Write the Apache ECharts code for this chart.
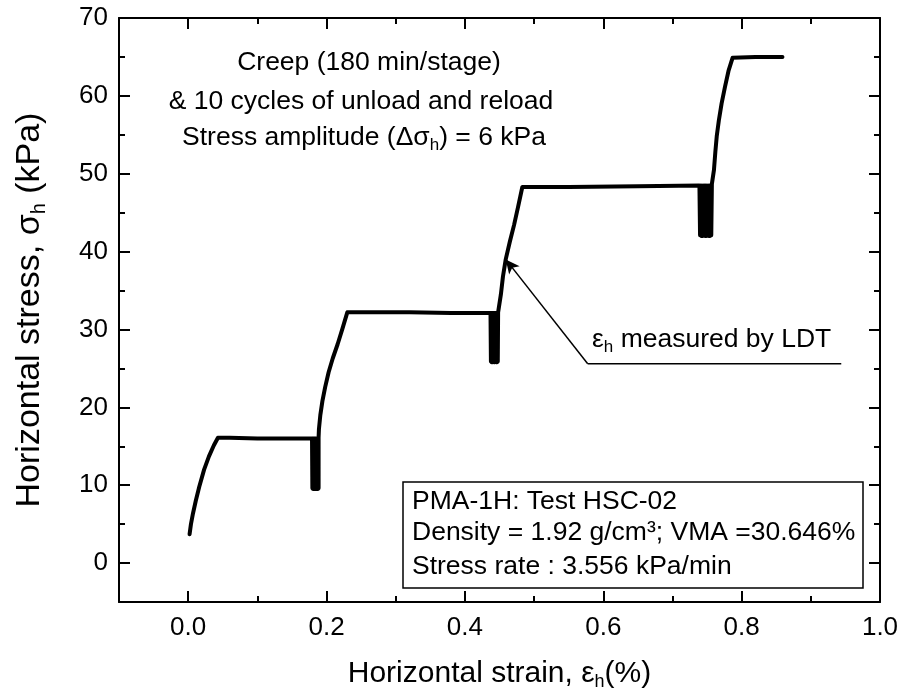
<!DOCTYPE html>
<html><head><meta charset="utf-8">
<script src="https://cdn.jsdelivr.net/npm/echarts@6/dist/echarts.min.js"></script>
<style>html,body{margin:0;padding:0;background:#fff}#c{width:903px;height:698px}</style>
</head><body><div id="c"></div>
<script>
// ---- data (strain in %, stress in kPa) ----
const loading1Strain = [0.002,0.004,0.007,0.011,0.016,0.023,0.030,0.037,0.043];
const loading1Stress = [3.7,5.0,6.4,8.0,9.8,12.0,13.7,15.1,16.1];
const creep1Strain = [0.060,0.100,0.140,0.179];
const creep1Stress = [16.1,16.0,16.0,16.0];
const cycle1Strain = [0.1790,0.1795,0.1800,0.1805,0.1810,0.1815,0.1820,0.1825,0.1830,0.1835,0.1840,0.1845,0.1850,0.1855,0.1860,0.1865,0.1870,0.1875,0.1880,0.1885,0.1885];
const cycle1Stress = [16.0,9.6,16.0,9.5,16.0,9.5,16.0,9.6,16.0,9.5,16.0,9.5,16.0,9.6,16.0,9.5,16.0,9.5,16.0,9.6,16.1];
const loading2Strain = [0.188,0.189,0.191,0.194,0.198,0.203,0.209,0.216,0.223,0.230];
const loading2Stress = [16.1,17.2,19.0,20.8,22.6,24.5,26.3,28.1,30.1,32.2];
const creep2Strain = [0.260,0.320,0.380,0.437];
const creep2Stress = [32.2,32.2,32.1,32.1];
const cycle2Strain = [0.4370,0.4376,0.4381,0.4387,0.4392,0.4398,0.4403,0.4409,0.4414,0.4420,0.4425,0.4431,0.4436,0.4442,0.4447,0.4453,0.4458,0.4464,0.4469,0.4475,0.4480];
const cycle2Stress = [32.1,25.9,32.1,25.8,32.1,25.8,32.1,25.9,32.1,25.8,32.1,25.8,32.1,25.9,32.1,25.8,32.1,25.8,32.1,25.9,32.2];
const loading3Strain = [0.449,0.452,0.455,0.459,0.465,0.471,0.477,0.483];
const loading3Stress = [32.3,34.5,36.8,39.0,41.3,43.4,45.8,48.3];
const creep3Strain = [0.550,0.650,0.739];
const creep3Stress = [48.3,48.4,48.5];
const cycle3Strain = [0.7390,0.7399,0.7408,0.7417,0.7426,0.7435,0.7444,0.7453,0.7462,0.7471,0.7480,0.7489,0.7498,0.7507,0.7516,0.7525,0.7534,0.7543,0.7552,0.7561,0.7570];
const cycle3Stress = [48.5,42.1,48.5,42.0,48.5,42.0,48.5,42.1,48.5,42.0,48.5,42.0,48.5,42.1,48.5,42.0,48.5,42.0,48.5,42.1,48.7];
const loading4Strain = [0.758,0.760,0.762,0.764,0.767,0.771,0.776,0.781,0.787];
const loading4Stress = [48.7,50.5,52.8,54.8,56.8,59.0,61.2,63.2,64.9];
const creep4Strain = [0.820,0.859];
const creep4Stress = [65.0,65.0];

const xMajorTicks = [0.0,0.2,0.4,0.6,0.8,1.0];
const xMinorTicks = [0.1,0.3,0.5,0.7,0.9];
const yMajorTicks = [0,10,20,30,40,50,60,70];
const yMinorTicks = [5,15,25,35,45,55,65];

// annotation leader line (data coords)
const leaderStrain = [0.944,0.5775,0.459];
const leaderStress = [25.6,25.6,39.0];

// ---- build ----
const segStrain = [loading1Strain,creep1Strain,cycle1Strain,loading2Strain,creep2Strain,cycle2Strain,loading3Strain,creep3Strain,cycle3Strain,loading4Strain,creep4Strain];
const segStress = [loading1Stress,creep1Stress,cycle1Stress,loading2Stress,creep2Stress,cycle2Stress,loading3Stress,creep3Stress,cycle3Stress,loading4Stress,creep4Stress];
const curve = [];
segStrain.forEach((xs,i)=>xs.forEach((x,j)=>curve.push([x,segStress[i][j]])));

const FONT = 'Liberation Sans, Arial, Helvetica, sans-serif';
const black = '#000';

function xAx(pos, ticks, len, line, label){
  return {
    type:'value', position:pos, min:-0.1, max:1.0,
    axisLine:{show:line, onZero:false, lineStyle:{color:black,width:2}},
    axisTick:{show:true, inside:true, length:len, customValues:ticks, lineStyle:{color:black,width:2}},
    axisLabel:{show:label, customValues:ticks, margin:13, fontSize:26, fontFamily:FONT, color:black,
      formatter:v=>Number(v).toFixed(1)},
    splitLine:{show:false}
  };
}
function yAx(pos, ticks, len, line, label){
  return {
    type:'value', position:pos, min:-5, max:70,
    axisLine:{show:line, onZero:false, lineStyle:{color:black,width:2}},
    axisTick:{show:true, inside:true, length:len, customValues:ticks, lineStyle:{color:black,width:2}},
    axisLabel:{show:label, customValues:ticks, margin:11, fontSize:26, fontFamily:FONT, color:black},
    splitLine:{show:false}
  };
}

const xMain = xAx('bottom', xMajorTicks, 11, true, true);
xMain.name = 'Horizontal strain, ε{sub|h}(%)';
xMain.nameLocation = 'middle';
xMain.nameGap = 55;
xMain.nameTextStyle = {fontSize:30, fontFamily:FONT, color:black, lineHeight:34,
  rich:{sub:{fontSize:18, fontFamily:FONT, color:black, verticalAlign:'bottom', lineHeight:34}}};

const yMain = yAx('left', yMajorTicks, 11, true, true);
yMain.name = 'Horizontal stress, σ{sub|h} (kPa)';
yMain.nameLocation = 'middle';
yMain.nameRotate = 90;
yMain.nameGap = 70;
yMain.nameTextStyle = {fontSize:34, fontFamily:FONT, color:black, lineHeight:38,
  rich:{sub:{fontSize:20, fontFamily:FONT, color:black, verticalAlign:'bottom', lineHeight:38}}};

const chart = echarts.init(document.getElementById('c'), null, {renderer:'canvas'});
const textRich = {sub:{fontSize:17, fontFamily:FONT, color:black, verticalAlign:'bottom', lineHeight:31}};
function txt(x,y,t,align){
  return {type:'text', x:x, y:y, z:100,
    style:{text:t, fontSize:26.5, fontFamily:FONT, fill:black, align:align||'center', verticalAlign:'middle', lineHeight:31, rich:textRich}};
}
chart.setOption({
  animation:false,
  backgroundColor:'#fff',
  grid:{left:119, right:23, top:18, bottom:96, containLabel:false},
  xAxis:[xMain, xAx('bottom', xMinorTicks, 6, false, false), xAx('top', xMajorTicks, 11, true, false), xAx('top', xMinorTicks, 6, false, false)],
  yAxis:[yMain, yAx('left', yMinorTicks, 6, false, false), yAx('right', yMajorTicks, 11, true, false), yAx('right', yMinorTicks, 6, false, false)],
  series:[
    {type:'line', data:curve, showSymbol:false, symbol:'none', lineStyle:{color:black, width:4, join:'round', cap:'round'}, z:3},
    {type:'line', data:[[leaderStrain[0],leaderStress[0]],[leaderStrain[1],leaderStress[1]]], showSymbol:false, symbol:'none',
      lineStyle:{color:black,width:1.5},
      markLine:{silent:true, symbol:['none','arrow'], symbolSize:[10,14], label:{show:false},
        lineStyle:{color:black,width:1.5,type:'solid'},
        data:[[{coord:[leaderStrain[1],leaderStress[1]]},{coord:[leaderStrain[2],leaderStress[2]]}]]}}
  ],
  graphic:[
    txt(369,63,'Creep (180 min/stage)'),
    txt(361,102,'& 10 cycles of unload and reload'),
    txt(364,138,'Stress amplitude (Δσ{sub|h}) = 6 kPa'),
    txt(592,340,'ε{sub|h} measured by LDT','left'),
    {type:'rect', z:90, shape:{x:403,y:482,width:460,height:106}, style:{fill:'#fff', stroke:black, lineWidth:1.5}},
    txt(412,502,'PMA-1H: Test HSC-02','left'),
    txt(412,533,'Density = 1.92 g/cm³; VMA =30.646%','left'),
    txt(412,567,'Stress rate : 3.556 kPa/min','left')
  ]
});
</script></body></html>
